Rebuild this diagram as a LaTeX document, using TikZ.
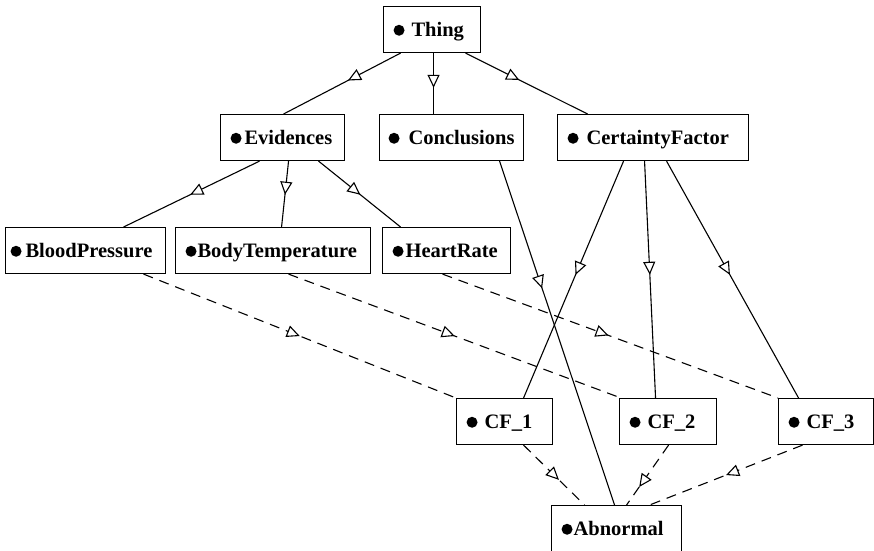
\documentclass[tikz,border=0pt]{standalone}
\usepackage{fontspec}
\setmainfont{Liberation Serif}
\usetikzlibrary{arrows.meta,decorations.markings}
\newcommand\blt{\tikz[baseline=-6.3pt]{\fill (0pt,0pt) circle[radius=5.5pt];}}
\newcommand\lbl[4]{\makebox[#1][l]{\hspace{#2}\blt\hspace{#3}#4}}
\tikzset{
  box/.style={draw, line width=1.1pt, inner sep=0pt, anchor=north west,
    text height=30pt, text depth=16pt, font=\fontsize{20.5}{24}\selectfont\bfseries},
  edge/.style={line width=1.1pt},
  dedge/.style={line width=1.1pt, dash pattern=on 10pt off 7pt},
  midtri/.style={postaction={decorate}, decoration={markings,
    mark=at position #1 with {\arrow{Triangle[length=13pt,width=12pt,fill=white]}}}}
}
\begin{document}
\begin{tikzpicture}[x=1pt,y=-1pt]
\useasboundingbox[fill=white] (0,0) rectangle (874,550);
% nodes
\node[box] (thing) at (383,6) {\lbl{97pt}{10pt}{7pt}{Thing}};
\node[box] (evid) at (220,114) {\lbl{124pt}{10pt}{3pt}{Evidences}};
\node[box] (concl) at (379,114) {\lbl{144pt}{9pt}{9pt}{Conclusions}};
\node[box] (cfac) at (557,114) {\lbl{191pt}{10pt}{8pt}{CertaintyFactor}};
\node[box] (bp) at (5,227) {\lbl{160pt}{5pt}{4pt}{BloodPressure}};
\node[box] (bt) at (175,227) {\lbl{195pt}{10pt}{1pt}{BodyTemperature}};
\node[box] (hr) at (382,227) {\lbl{128pt}{10pt}{2pt}{HeartRate}};
\node[box] (cf1) at (456,398) {\lbl{96pt}{10pt}{7pt}{CF\_1}};
\node[box] (cf2) at (619,398) {\lbl{97pt}{10pt}{7pt}{CF\_2}};
\node[box] (cf3) at (778,398) {\lbl{95pt}{10pt}{7pt}{CF\_3}};
\node[box] (abn) at (551,505) {\lbl{130pt}{10pt}{1pt}{Abnormal}};
% solid edges
\draw[edge, midtri=0.45] ([xshift=-31.5pt]thing.south) -- ([xshift=1pt]evid.north);
\draw[edge, midtri=0.57] ([xshift=1.5pt]thing.south) -- ([xshift=-18pt]concl.north);
\draw[edge, midtri=0.44] ([xshift=33.5pt]thing.south) -- ([xshift=-65.5pt]cfac.north);
\draw[edge, midtri=0.51] ([xshift=-23pt]evid.south) -- ([xshift=38pt]bp.north);
\draw[edge, midtri=0.51] ([xshift=6pt]evid.south) -- ([xshift=8.5pt]bt.north);
\draw[edge, midtri=0.51] ([xshift=36pt]evid.south) -- ([xshift=-46pt]hr.north);
\draw[edge, midtri=0.48] ([xshift=-29.5pt]cfac.south) -- ([xshift=19pt]cf1.north);
\draw[edge, midtri=0.48] ([xshift=-8.5pt]cfac.south) -- ([xshift=-12.5pt]cf2.north);
\draw[edge, midtri=0.48] ([xshift=13.5pt]cfac.south) -- ([xshift=-27.5pt]cf3.north);
\draw[edge, midtri=0.37] ([xshift=48pt]concl.south) -- ([xshift=-2pt]abn.north);
% dashed edges
\draw[dedge, midtri=0.5] ([xshift=58pt]bp.south) -- (cf1.north west);
\draw[dedge, midtri=0.5] ([xshift=15.5pt]bt.south) -- ([xshift=2pt]cf2.north west);
\draw[dedge, midtri=0.495] ([xshift=-4pt]hr.south) -- (cf3.north west);
\draw[dedge, midtri=0.58] ([xshift=19pt]cf1.south) -- ([xshift=-32pt]abn.north);
\draw[dedge, midtri=0.7] ([xshift=0.5pt]cf2.south) -- ([xshift=10pt]abn.north);
\draw[dedge, midtri=0.5] ([xshift=-23.5pt]cf3.south) -- ([xshift=33pt]abn.north);
\end{tikzpicture}
\end{document}
